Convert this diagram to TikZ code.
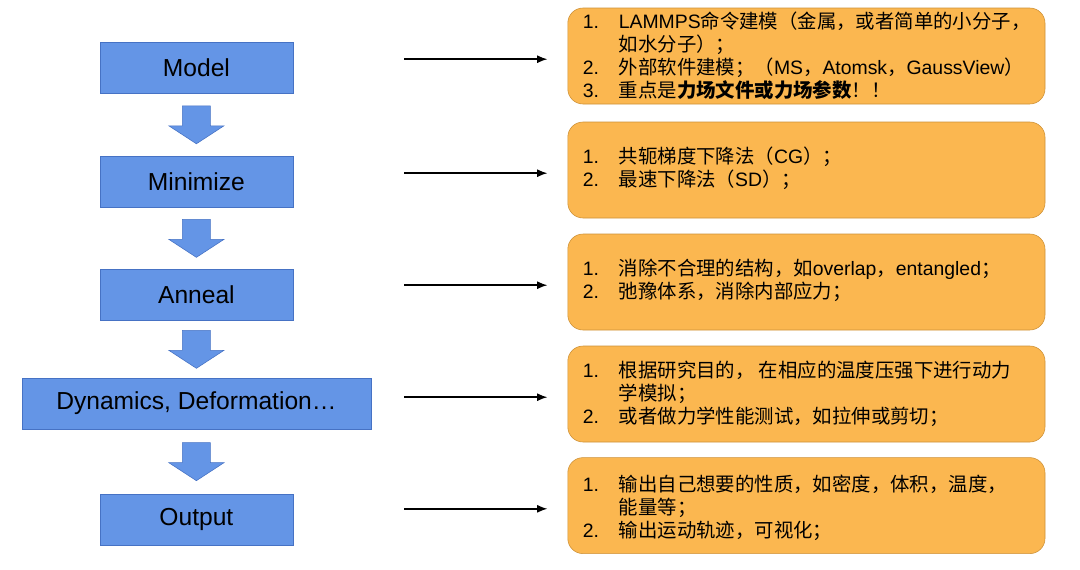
\documentclass[tikz,border=0pt]{standalone}
\usepackage{fontspec}
\setmainfont{Liberation Sans}
\newfontfamily\cjk{Noto Sans CJK SC}
\usetikzlibrary{positioning,calc,arrows.meta}
\definecolor{stepblue}{RGB}{100,149,230}
\definecolor{stepedge}{RGB}{70,114,196}
\definecolor{noteorange}{RGB}{251,183,80}
\definecolor{noteedge}{RGB}{205,145,55}
\newcommand\zh[1]{{\cjk #1}}
\newcommand\num[1]{\makebox[0.9cm][l]{#1}}
\begin{document}
\begin{tikzpicture}[
        stepbox/.style={draw=stepedge,fill=stepblue,minimum width=4.83cm,minimum height=1.275cm,font=\fontsize{17.5}{21}\selectfont},
        notebox/.style={draw=noteedge,fill=noteorange,rounded corners=0.38cm,minimum width=11.93cm,minimum height=2.4cm},
        notetext/.style={anchor=west,align=left,inner sep=0pt,font=\fontsize{13.8}{16.4}\selectfont},
        link/.style={-{Latex[length=2.6mm,width=2mm]},line width=1.1pt}]
        \useasboundingbox (0,0) rectangle (27,-14.225);
        \node[stepbox] (model) at (4.91,-1.7) {Model};
        \node[stepbox,below=1.55cm of model] (minimize) {Minimize};
        \node[stepbox,below=1.55cm of minimize] (anneal) {Anneal};
        \node[stepbox,below=1.42cm of anneal,minimum width=8.73cm] (dyn) {Dynamics, Deformation…};
        \node[stepbox,below=1.62cm of dyn] (output) {Output};
        \foreach \a/\b in {model/minimize,minimize/anneal,anneal/dyn,dyn/output}
            \filldraw[fill=stepblue,draw=stepedge] ($(\a.south)!0.5!(\b.north)+(-0.35,0.475)$) -- ++(0.7,0) -- ++(0,-0.5) -- ++(0.34,0) -- ++(-0.69,-0.45) -- ++(-0.69,0.45) -- ++(0.34,0) -- cycle;
        \node[notebox] (note1) at (20.16,-1.4) {};
        \node[notebox] (note2) at (20.16,-4.25) {};
        \node[notebox] (note3) at (20.16,-7.05) {};
        \node[notebox] (note4) at (20.16,-9.85) {};
        \node[notebox] (note5) at (20.16,-12.64) {};
        \node[notetext] (text1) at ([xshift=0.375cm]note1.west) {\num{1.}LAMMPS\zh{命令建模（金属，或者简单的小分子，}\\
            \num{}\zh{如水分子）；}\\
            \num{2.}\zh{外部软件建模；（}MS\zh{，}Atomsk\zh{，}GaussView\zh{）}\\
            \num{3.}\zh{重点是\textbf{力场文件或力场参数}！！}};
        \node[notetext] (text2) at ([xshift=0.375cm,yshift=0.05cm]note2.west) {\num{1.}\zh{共轭梯度下降法（}CG\zh{）；}\\
            \num{2.}\zh{最速下降法（}SD\zh{）；}};
        \node[notetext] (text3) at ([xshift=0.375cm,yshift=0.05cm]note3.west) {\num{1.}\zh{消除不合理的结构，如}overlap\zh{，}entangled\zh{；}\\
            \num{2.}\zh{弛豫体系，消除内部应力；}};
        \node[notetext] (text4) at ([xshift=0.375cm]note4.west) {\num{1.}\zh{根据研究目的， 在相应的温度压强下进行动力}\\
            \num{}\zh{学模拟；}\\
            \num{2.}\zh{或者做力学性能测试，如拉伸或剪切；}};
        \node[notetext] (text5) at ([xshift=0.375cm,yshift=-0.05cm]note5.west) {\num{1.}\zh{输出自己想要的性质，如密度，体积，温度，}\\
            \num{}\zh{能量等；}\\
            \num{2.}\zh{输出运动轨迹，可视化；}};
        \foreach \n in {note1,note2,note3,note4,note5}
            \draw[link] ([xshift=-4.08cm,yshift=-0.08cm]\n.west) -- ([xshift=-0.5cm,yshift=-0.08cm]\n.west);
    \end{tikzpicture}
\end{document}
